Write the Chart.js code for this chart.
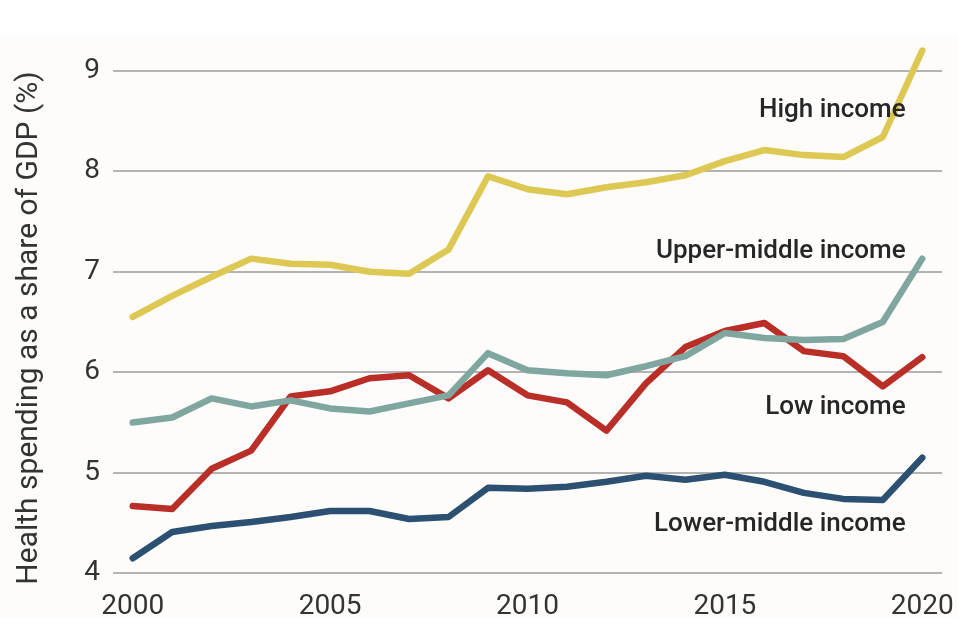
<!DOCTYPE html>
<html>
<head>
<meta charset="utf-8">
<script src="https://cdn.jsdelivr.net/npm/chart.js@4"></script>
<style>
  html, body { margin: 0; padding: 0; background: #ffffff; }
  #wrap { width: 975px; height: 626px; position: relative; }
</style>
</head>
<body>
<div id="wrap"><canvas id="line" width="975" height="626"></canvas></div>
<script>
// years on the x axis
var years = [];
for (var y = 2000; y <= 2020; y++) years.push(String(y));
var xTicks = ['2000', '2005', '2010', '2015', '2020'];
var yTicks = [4, 5, 6, 7, 8, 9];

// health spending as a share of GDP (%)
var highIncome = [6.55, 6.76, 6.95, 7.13, 7.08, 7.07, 7.00, 6.98, 7.22, 7.95, 7.82, 7.77, 7.84, 7.89, 7.96, 8.10, 8.21, 8.16, 8.14, 8.34, 9.20];
var upperMiddle = [5.50, 5.55, 5.74, 5.66, 5.72, 5.64, 5.61, 5.69, 5.77, 6.19, 6.02, 5.99, 5.97, 6.06, 6.16, 6.39, 6.34, 6.32, 6.33, 6.50, 7.13];
var lowIncome = [4.67, 4.64, 5.04, 5.22, 5.76, 5.81, 5.94, 5.97, 5.74, 6.02, 5.77, 5.70, 5.42, 5.89, 6.25, 6.41, 6.49, 6.21, 6.16, 5.86, 6.15];
var lowerMiddle = [4.15, 4.41, 4.47, 4.51, 4.56, 4.62, 4.62, 4.54, 4.56, 4.85, 4.84, 4.86, 4.91, 4.97, 4.93, 4.98, 4.91, 4.80, 4.74, 4.73, 5.15];

var seriesNames = ['High income', 'Upper-middle income', 'Low income', 'Lower-middle income'];
// where each name sits, in axis values
var labelValues = [8.60, 7.20, 5.65, 4.49];

var colors = ['rgb(220, 200, 82)', 'rgb(128, 166, 160)', 'rgb(186, 46, 40)', 'rgb(44, 80, 114)'];
var FONT = 'Roboto, "DejaVu Sans", sans-serif';

var panelBg = {
    id: 'panelBg',
    beforeDraw: function (chart) {
        var ctx = chart.ctx;
        ctx.save();
        ctx.fillStyle = '#fdfcfa';
        ctx.fillRect(0, 35, 958, 583);
        ctx.restore();
    }
};

var texts = {
    id: 'texts',
    afterDatasetsDraw: function (chart) {
        var ctx = chart.ctx;
        var xs = chart.scales.x, ys = chart.scales.y;
        var right = xs.getPixelForValue(19) + 0.58 * (xs.getPixelForValue(20) - xs.getPixelForValue(19));
        ctx.save();
        ctx.fillStyle = '#262626';
        ctx.font = '500 26px ' + FONT;
        ctx.textAlign = 'right';
        ctx.textBaseline = 'middle';
        for (var i = 0; i < seriesNames.length; i++) {
            ctx.fillText(seriesNames[i], right, ys.getPixelForValue(labelValues[i]));
        }
        // y axis title
        ctx.translate(29, 328);
        ctx.rotate(-Math.PI / 2);
        ctx.textAlign = 'center';
        ctx.font = '30px ' + FONT;
        ctx.fillStyle = '#333333';
        ctx.fillText('Health spending as a share of GDP (%)', 0, 0);
        ctx.restore();
    }
};

var ctx = document.getElementById('line').getContext('2d');
var chart = new Chart(ctx, {
    type: 'line',
    data: {
        labels: years,
        datasets: [
            { label: seriesNames[0], data: highIncome, borderColor: colors[0] },
            { label: seriesNames[1], data: upperMiddle, borderColor: colors[1] },
            { label: seriesNames[2], data: lowIncome, borderColor: colors[2] },
            { label: seriesNames[3], data: lowerMiddle, borderColor: colors[3] }
        ]
    },
    options: {
        responsive: false,
        animation: false,
        devicePixelRatio: 1,
        layout: { padding: { top: 40.5, right: 33, left: 0, bottom: 0 } },
        elements: {
            line: { borderWidth: 6.5, tension: 0, borderCapStyle: 'round', borderJoinStyle: 'round', fill: false },
            point: { radius: 0, hoverRadius: 0 }
        },
        plugins: {
            legend: { display: false },
            tooltip: { enabled: false },
            title: { display: false }
        },
        scales: {
            x: {
                type: 'category',
                offset: true,
                grid: { display: false },
                border: { display: false },
                afterFit: function (scale) { scale.height = 626 - 573.3; },
                ticks: {
                    autoSkip: false,
                    maxRotation: 0,
                    padding: 9,
                    color: '#333333',
                    font: { family: FONT, size: 28 },
                    callback: function (val, i) {
                        var lab = this.getLabelForValue(val);
                        return xTicks.indexOf(lab) >= 0 ? lab : '';
                    }
                }
            },
            y: {
                min: 4,
                max: 9.3,
                afterFit: function (scale) { scale.width = 113; },
                afterBuildTicks: function (scale) {
                    scale.ticks = yTicks.map(function (v) { return { value: v }; });
                },
                grid: { color: '#b3b3b3', lineWidth: 2, drawTicks: false },
                border: { display: false },
                ticks: {
                    padding: 13,
                    color: '#333333',
                    font: { family: FONT, size: 28 }
                }
            }
        }
    },
    plugins: [panelBg, texts]
});
</script>
</body>
</html>
